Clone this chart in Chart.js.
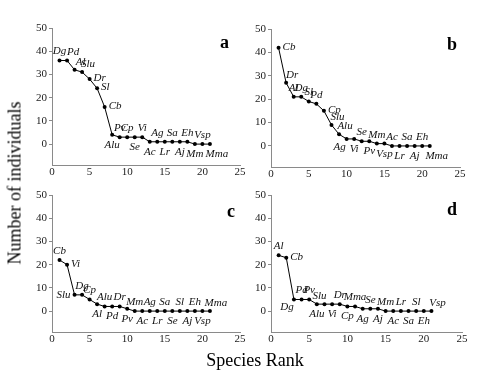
<!DOCTYPE html>
<html>
<head>
<meta charset="utf-8">
<script src="https://cdn.jsdelivr.net/npm/chart.js@4.4.0/dist/chart.umd.min.js"></script>
<style>
  body { margin: 0; background: #fff; }
  #wrap { position: relative; width: 479px; height: 374px; overflow: hidden; font-family: "Liberation Serif", "DejaVu Serif", serif; }
  canvas { position: absolute; }
  .letter { position: absolute; font-weight: bold; font-size: 18px; }
  #ytitle { position: absolute; left: 15px; top: 183px; transform: translate(-50%, -50%) rotate(-90deg); font-size: 18px; white-space: nowrap; }
  #xtitle { position: absolute; left: 255px; top: 360px; transform: translate(-50%, -50%); font-size: 18px; white-space: nowrap; }
</style>
</head>
<body>
<div id="wrap">
  <canvas id="pa" width="250" height="185" style="left:0;top:0"></canvas>
  <canvas id="pb" width="250" height="187" style="left:219px;top:0"></canvas>
  <canvas id="pc" width="250" height="185" style="left:0;top:167px"></canvas>
  <canvas id="pd" width="250" height="185" style="left:219px;top:167px"></canvas>
  <div class="letter" style="left:220px;top:32px">a</div>
  <div class="letter" style="left:447px;top:34px">b</div>
  <div class="letter" style="left:227px;top:201px">c</div>
  <div class="letter" style="left:447px;top:199px">d</div>
  <div id="ytitle">Number of individuals</div>
  <div id="xtitle">Species Rank</div>
</div>
<script>
// species rank on the x axis (same for every panel)
const ranks = [1, 2, 3, 4, 5, 6, 7, 8, 9, 10, 11, 12, 13, 14, 15, 16, 17, 18, 19, 20, 21];
const xTicks = [0, 5, 10, 15, 20, 25];
const yTicks = [0, 10, 20, 30, 40, 50];

// panel a
const speciesA = ['Dg', 'Pd', 'Al', 'Slu', 'Dr', 'Sl', 'Cb', 'Alu', 'Pv', 'Cp', 'Se', 'Vi', 'Ac', 'Ag', 'Lr', 'Sa', 'Aj', 'Eh', 'Mm', 'Vsp', 'Mma'];
const countsA = [36, 36, 32, 31, 28, 24, 16, 4, 3, 3, 3, 3, 1, 1, 1, 1, 1, 1, 0, 0, 0];

// panel b
const speciesB = ['Cb', 'Dr', 'Al', 'Dg', 'Sl', 'Pd', 'Cp', 'Slu', 'Alu', 'Ag', 'Vi', 'Se', 'Pv', 'Mm', 'Vsp', 'Ac', 'Lr', 'Sa', 'Aj', 'Eh', 'Mma'];
const countsB = [42, 27, 21, 21, 19, 18, 15, 9, 5, 3, 3, 2, 2, 1, 1, 0, 0, 0, 0, 0, 0];

// panel c
const speciesC = ['Cb', 'Vi', 'Slu', 'Dg', 'Cp', 'Al', 'Alu', 'Pd', 'Dr', 'Pv', 'Mm', 'Ac', 'Ag', 'Lr', 'Sa', 'Se', 'Sl', 'Aj', 'Eh', 'Vsp', 'Mma'];
const countsC = [22, 20, 7, 7, 5, 3, 2, 2, 2, 1, 0, 0, 0, 0, 0, 0, 0, 0, 0, 0, 0];

// panel d
const speciesD = ['Al', 'Cb', 'Dg', 'Pd', 'Pv', 'Alu', 'Slu', 'Vi', 'Dr', 'Cp', 'Mma', 'Ag', 'Se', 'Aj', 'Mm', 'Ac', 'Lr', 'Sa', 'Sl', 'Eh', 'Vsp'];
const countsD = [24, 23, 5, 5, 5, 3, 3, 3, 3, 2, 2, 1, 1, 1, 0, 0, 0, 0, 0, 0, 0];

// where each species name sits relative to its point
const placeA = ['u','ur','ur','ur','r','r','r','d','u','u','d','u','d','u','d','u','d','u','d','u','dr'];
const placeB = ['r','ur','u','u','u','u','r','ur','ur','dl','d','u','d','u','d','u','d','u','d','u','dr'];
const placeC = ['u','r','l','u','u','d','u','d','u','d','u','d','u','d','u','d','u','d','u','d','ur'];
const placeD = ['u','r','dl','u','u','d','ul','d','u','d','u','d','u','d','u','d','u','d','u','d','ur'];

const serif = '"Liberation Serif", "DejaVu Serif", serif';
const offsets = {
  u:  [0, -9, 'center'],
  d:  [0, 10, 'center'],
  ur: [6, -8, 'center'],
  ul: [-5, -8, 'center'],
  r:  [4, -1, 'left'],
  l:  [-4, 0, 'right'],
  dl: [-7, 8, 'center'],
  dr: [7, 10, 'center']
};

const nameLabels = {
  id: 'nameLabels',
  afterDatasetsDraw(chart, args, opts) {
    const ctx = chart.ctx;
    const pts = chart.getDatasetMeta(0).data;
    ctx.save();
    ctx.font = 'italic 11px ' + serif;
    ctx.fillStyle = '#111';
    ctx.textBaseline = 'middle';
    pts.forEach((p, i) => {
      const o = offsets[opts.places[i]];
      ctx.textAlign = o[2];
      ctx.fillText(opts.names[i], p.x + o[0], p.y + o[1]);
    });
    ctx.restore();
  }
};

function makePanel(id, counts, names, places, pad) {
  const points = ranks.map((r, i) => ({ x: r, y: counts[i] }));
  return new Chart(document.getElementById(id), {
    type: 'line',
    data: {
      datasets: [{
        data: points,
        borderColor: '#000',
        borderWidth: 1,
        backgroundColor: '#000',
        pointRadius: 2,
        pointBorderWidth: 0,
        tension: 0
      }]
    },
    options: {
      responsive: false,
      animation: false,
      devicePixelRatio: 1,
      layout: { padding: pad },
      plugins: {
        legend: { display: false },
        tooltip: { enabled: false },
        nameLabels: { names: names, places: places }
      },
      scales: {
        x: {
          type: 'linear',
          min: 0,
          max: 25,
          afterBuildTicks: s => { s.ticks = xTicks.map(v => ({ value: v })); },
          afterFit: s => { s.height = 20; },
          grid: { drawOnChartArea: false, drawTicks: false },
          border: { color: '#8a8a8a', width: 1 },
          ticks: { color: '#222', font: { family: serif, size: 11 }, padding: 1, maxRotation: 0 }
        },
        y: {
          type: 'linear',
          min: -9,
          max: 50,
          afterBuildTicks: s => { s.ticks = yTicks.map(v => ({ value: v })); },
          afterFit: s => { s.width = 52; },
          grid: { drawOnChartArea: false, drawTicks: true, tickLength: 3, color: '#8a8a8a' },
          border: { color: '#8a8a8a', width: 1 },
          ticks: { color: '#222', font: { family: serif, size: 11 }, padding: 2 }
        }
      }
    },
    plugins: [nameLabels]
  });
}

makePanel('pa', countsA, speciesA, placeA, { top: 28, right: 10, left: 0, bottom: 0 });
makePanel('pb', countsB, speciesB, placeB, { top: 29, right: 9, left: 0, bottom: 0 });
makePanel('pc', countsC, speciesC, placeC, { top: 28, right: 10, left: 0, bottom: 0 });
makePanel('pd', countsD, speciesD, placeD, { top: 28, right: 7, left: 0, bottom: 0 });
</script>
</body>
</html>
